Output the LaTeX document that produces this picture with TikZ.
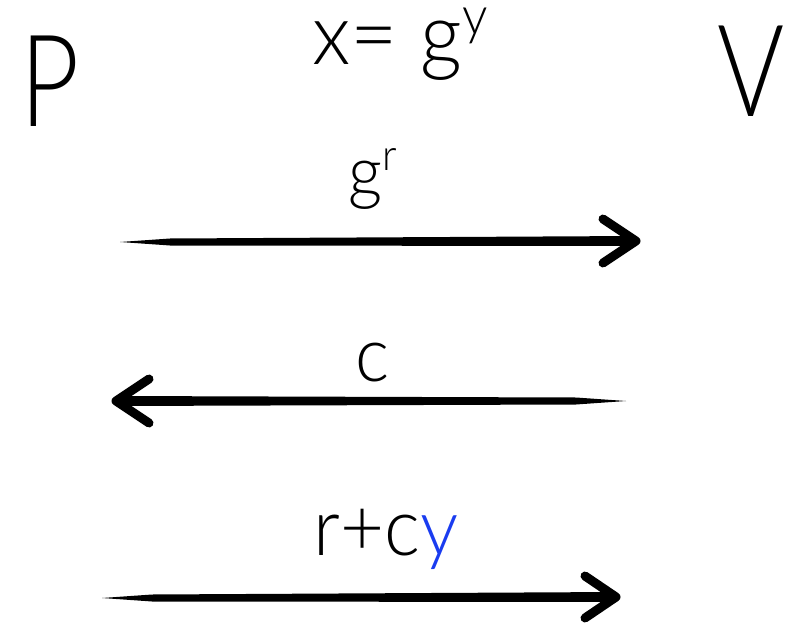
\documentclass[tikz,border=0pt]{standalone}
\usepackage{fontspec}
\setmainfont{Lato Light}[FakeStretch=0.8]
\newfontfamily\msgfont{Lato Light}[FakeStretch=0.95]
\usepackage{xcolor}
\usepackage{graphicx}
\usetikzlibrary{positioning,calc}
\definecolor{accent}{HTML}{1A3CF0}

\newcommand{\upidx}[1]{\raisebox{0.36em}{\scalebox{0.62}{#1}}}

\tikzset{
  party/.style={inner sep=0pt, font=\fontsize{128}{128}\selectfont},
  msg/.style={inner sep=0pt, font=\msgfont\fontsize{80}{80}\selectfont},
  brush/.style={fill=black},
  barb/.style={line width=9pt, line cap=round, line join=round}
}

\begin{document}
\begin{tikzpicture}[x=1pt,y=-1pt]
    \useasboundingbox (0,0) rectangle (787,623);

    % parties and the public key
    \node[party, anchor=base] (P) at (50,127) {P};
    \node[party, anchor=base] (V) at (751,117) {V};
    \node[msg, anchor=base, font=\msgfont\fontsize{86}{86}\selectfont] (key) at (400,65) {x= g\upidx{y}};

    % first message: commitment
    \node[msg, anchor=base, font=\msgfont\fontsize{70}{70}\selectfont] (commit) at (373,196) {g\upidx{r}};
    \coordinate (c1s) at (120,242);
    \coordinate (c1e) at (636,241);
    \fill[brush] (c1s) -- ($(c1s)+(50,-3.5)$) -- ($(c1e)+(0,-5)$) -- ($(c1e)+(0,5)$) -- ($(c1s)+(50,3.5)$) -- cycle;
    \draw[barb] ($(c1e)+(-33,-22)$) -- (c1e) -- ($(c1e)+(-33,22)$);

    % second message: challenge
    \node[msg, anchor=base, font=\msgfont\fontsize{76}{76}\selectfont] (chal) at (373,381) {c};
    \coordinate (c2s) at (626,401);
    \coordinate (c2e) at (116,401);
    \fill[brush] (c2s) -- ($(c2s)+(-50,-3.5)$) -- ($(c2e)+(0,-5)$) -- ($(c2e)+(0,5)$) -- ($(c2s)+(-50,3.5)$) -- cycle;
    \draw[barb] ($(c2e)+(33,-22)$) -- (c2e) -- ($(c2e)+(33,22)$);

    % third message: response
    \node[msg, anchor=base] (resp) at (386,555) {r+c\textcolor{accent}{y}};
    \coordinate (c3s) at (102,598);
    \coordinate (c3e) at (616,597);
    \fill[brush] (c3s) -- ($(c3s)+(50,-3.5)$) -- ($(c3e)+(0,-5)$) -- ($(c3e)+(0,5)$) -- ($(c3s)+(50,3.5)$) -- cycle;
    \draw[barb] ($(c3e)+(-31,-21)$) -- (c3e) -- ($(c3e)+(-31,21)$);
\end{tikzpicture}
\end{document}
